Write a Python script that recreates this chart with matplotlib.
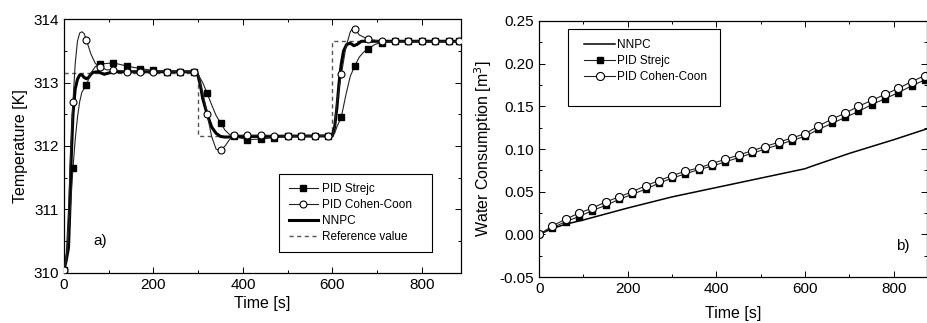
import matplotlib.pyplot as plt
from matplotlib.patches import Rectangle
from matplotlib.ticker import MultipleLocator

plt.rcParams['font.family'] = ['Liberation Sans', 'DejaVu Sans']

# --- a) temperature ---
t_nnpc = [0, 5, 10, 13, 16, 20, 25, 30, 35, 40, 45, 50, 55, 60, 65, 75, 90, 100, 110,
          295, 300, 305, 310, 320, 330, 340, 350, 360, 400, 600, 605, 610, 615, 620,
          625, 632, 640, 648, 655, 665, 900]
T_nnpc = [310.05, 310.2, 310.4, 311.0, 311.8, 312.5, 312.9, 313.05, 313.12, 313.12,
          313.08, 313.06, 313.08, 313.13, 313.16, 313.17, 313.13, 313.15, 313.17,
          313.17, 313.1, 312.95, 312.75, 312.5, 312.3, 312.2, 312.15, 312.14, 312.15,
          312.16, 312.3, 312.6, 313.0, 313.3, 313.5, 313.6, 313.62, 313.58, 313.6,
          313.65, 313.65]

t_strejc = [0, 5, 10, 15, 20, 25, 30, 35, 40, 50, 60, 70, 80, 110, 140, 170, 200, 230,
            260, 290, 300, 310, 320, 330, 340, 350, 360, 370, 380, 410, 440, 470, 500,
            530, 560, 590, 600, 605, 610, 620, 630, 640, 650, 660, 670, 680, 695, 710,
            740, 770, 800, 830, 860, 884, 900]
T_strejc = [310.05, 310.2, 310.6, 311.1, 311.65, 312.1, 312.45, 312.7, 312.85, 312.96,
            313.15, 313.25, 313.29, 313.31, 313.26, 313.22, 313.19, 313.17, 313.17,
            313.17, 313.12, 313.0, 312.83, 312.65, 312.48, 312.36, 312.25, 312.18,
            312.15, 312.1, 312.11, 312.13, 312.15, 312.15, 312.16, 312.16, 312.16,
            312.2, 312.3, 312.46, 312.8, 313.1, 313.26, 313.4, 313.48, 313.53, 313.6,
            313.63, 313.65, 313.65, 313.65, 313.65, 313.65, 313.65, 313.65]

t_cc = [0, 5, 10, 15, 20, 25, 30, 35, 40, 45, 50, 60, 70, 80, 95, 110, 140, 170, 200,
        230, 260, 290, 300, 310, 320, 330, 340, 350, 360, 370, 380, 410, 440, 470, 500,
        530, 560, 590, 600, 605, 610, 620, 630, 640, 645, 650, 660, 680, 710, 740, 770,
        800, 830, 860, 884, 900]
T_cc = [310.05, 310.3, 311.0, 311.9, 312.7, 313.3, 313.65, 313.78, 313.8, 313.77,
        313.67, 313.45, 313.3, 313.25, 313.2, 313.2, 313.17, 313.16, 313.17, 313.17,
        313.17, 313.17, 313.1, 312.85, 312.5, 312.15, 311.95, 311.93, 312.0, 312.1,
        312.17, 312.17, 312.17, 312.16, 312.16, 312.16, 312.16, 312.16, 312.16, 312.3,
        312.7, 313.13, 313.55, 313.8, 313.85, 313.85, 313.75, 313.68, 313.65, 313.65,
        313.65, 313.65, 313.65, 313.65, 313.65, 313.65]

t_marks = [0, 20, 50, 80, 110, 140, 170, 200, 230, 260, 290, 320, 350, 380, 410, 440,
           470, 500, 530, 560, 590, 620, 650, 680, 710, 740, 770, 800, 830, 860, 884]

t_ref = [0, 300, 300, 600, 600, 900]
T_ref = [313.15, 313.15, 312.15, 312.15, 313.65, 313.65]

# --- b) water consumption ---
t_w = [0, 30, 60, 90, 120, 150, 180, 210, 240, 270, 300, 330, 360, 390, 420, 450, 480,
       510, 540, 570, 600, 630, 660, 690, 720, 750, 780, 810, 840, 870]
w_strejc = [0.0, 0.008, 0.015, 0.021, 0.028, 0.034, 0.041, 0.047, 0.053, 0.060, 0.066,
            0.071, 0.076, 0.080, 0.085, 0.090, 0.095, 0.100, 0.105, 0.110, 0.115, 0.123,
            0.130, 0.137, 0.144, 0.152, 0.159, 0.166, 0.174, 0.181]
w_cc = [0.0, 0.010, 0.018, 0.025, 0.031, 0.038, 0.044, 0.050, 0.057, 0.063, 0.069,
        0.074, 0.078, 0.083, 0.088, 0.093, 0.098, 0.103, 0.108, 0.113, 0.118, 0.127,
        0.135, 0.142, 0.150, 0.157, 0.164, 0.171, 0.179, 0.186]
t_wn = [0, 30, 60, 100, 200, 300, 400, 500, 600, 610, 700, 800, 900]
w_nnpc = [0.0, 0.007, 0.012, 0.017, 0.031, 0.044, 0.055, 0.066, 0.077, 0.079, 0.095,
          0.111, 0.128]


def idx(ts, marks):
    return [i for i, t in enumerate(ts) if t in marks]


fig = plt.figure(figsize=(9.28, 3.23), dpi=100)
ax1 = fig.add_axes([0.069, 0.155, 0.428, 0.786])
ax2 = fig.add_axes([0.581, 0.142, 0.418, 0.793])

# panel a
ax1.plot(t_ref, T_ref, '--', color='#555555', lw=1.0, dashes=(3, 2.5), label='Reference value', zorder=1)
ax1.plot(t_strejc, T_strejc, '-', color='#222222', lw=0.8, marker='s', ms=4.2,
         mfc='black', mec='black', markevery=idx(t_strejc, t_marks), label='PID Strejc', zorder=3)
ax1.plot(t_cc, T_cc, '-', color='#222222', lw=0.8, marker='o', ms=5,
         mfc='white', mec='black', mew=0.8, markevery=idx(t_cc, t_marks), label='PID Cohen-Coon', zorder=4)
ax1.plot(t_nnpc, T_nnpc, '-', color='black', lw=2.2, label='NNPC', zorder=2)

ax1.set_xlim(0, 888)
ax1.set_ylim(310, 314)
ax1.xaxis.set_major_locator(MultipleLocator(200))
ax1.xaxis.set_minor_locator(MultipleLocator(100))
ax1.yaxis.set_major_locator(MultipleLocator(1))
ax1.yaxis.set_minor_locator(MultipleLocator(0.5))
ax1.set_xlabel('Time [s]', fontsize=11.5, labelpad=3)
ax1.set_ylabel('Temperature [K]', fontsize=11.5, labelpad=4)
ax1.text(81, 310.5, 'a)', fontsize=11, ha='center', va='center')
h, l = ax1.get_legend_handles_labels()
order = [1, 2, 3, 0]
ax1.legend([h[i] for i in order], [l[i] for i in order], loc='upper left',
           bbox_to_anchor=(0.542, 0.09, 0.385, 0.30), mode='expand', fontsize=8.5,
           handlelength=2.45, borderaxespad=0, fancybox=False, edgecolor='black',
           framealpha=1, labelspacing=0.32, handletextpad=0.35, borderpad=0.8)
ax1.get_legend().get_frame().set_linewidth(0.8)

# panel b
ax2.plot(t_wn, w_nnpc, '-', color='black', lw=1.1, label='NNPC')
ax2.plot(t_w, w_strejc, '-', color='#222222', lw=0.8, marker='s', ms=5,
         mfc='black', mec='black', label='PID Strejc')
ax2.plot(t_w, w_cc, '-', color='#222222', lw=0.8, marker='o', ms=5.8,
         mfc='white', mec='black', mew=0.8, label='PID Cohen-Coon')
ax2.set_xlim(0, 875)
ax2.set_ylim(-0.05, 0.25)
ax2.xaxis.set_major_locator(MultipleLocator(200))
ax2.xaxis.set_minor_locator(MultipleLocator(100))
ax2.yaxis.set_major_locator(MultipleLocator(0.05))
ax2.yaxis.set_minor_locator(MultipleLocator(0.025))
ax2.yaxis.set_major_formatter(plt.FormatStrFormatter('%.2f'))
ax2.set_xlabel('Time [s]', fontsize=11.5, labelpad=7)
ax2.set_ylabel('Water Consumption [m$^3$]', fontsize=11.5, labelpad=4)
ax2.text(820, -0.013, 'b)', fontsize=11, ha='center', va='center')
ax2.legend(loc='upper left', bbox_to_anchor=(0.104, 0.947), fontsize=8.5, frameon=False,
           handlelength=2.6, borderaxespad=0, labelspacing=0.32, handletextpad=0.2)
ax2.add_patch(Rectangle((0.075, 0.668), 0.391, 0.301, transform=ax2.transAxes,
                        fill=False, edgecolor='black', lw=0.8, zorder=5))

for ax in (ax1, ax2):
    ax.tick_params(which='both', direction='in', top=True, right=True, labelsize=11)
    ax.tick_params(which='major', length=4, width=0.7)
    ax.tick_params(which='minor', length=2.5, width=0.7)
    for s in ax.spines.values():
        s.set_linewidth(0.9)

plt.savefig('out.png', dpi=100)
